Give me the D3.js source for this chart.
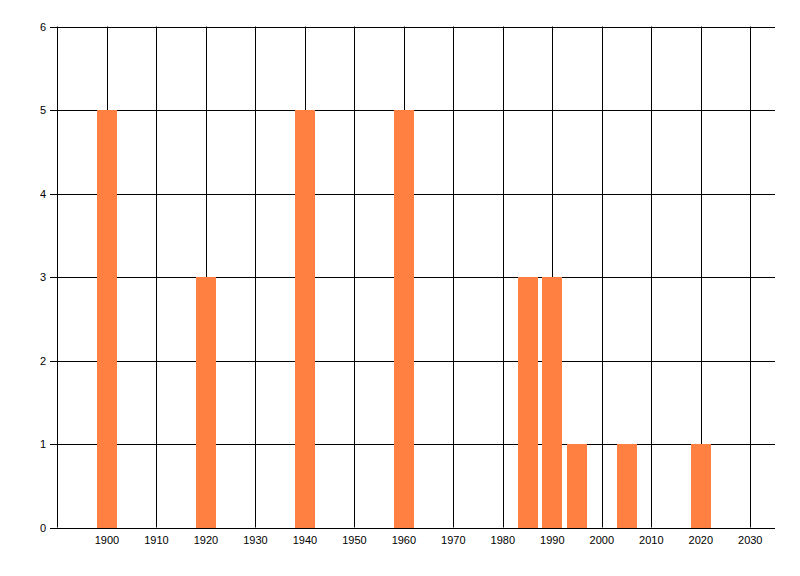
<!DOCTYPE html>
<html>
<head>
<meta charset="utf-8">
<script src="https://cdn.jsdelivr.net/npm/d3@7"></script>
<style>
  html, body { margin: 0; padding: 0; background: #fff; }
  svg text { font-family: "Liberation Sans", Arial, sans-serif; font-size: 11px; fill: #000; }
</style>
</head>
<body>
<svg id="chart" width="800" height="576"></svg>
<script>
// bar data: year and count
var years = [1900, 1920, 1940, 1960, 1985, 1990, 1995, 2005, 2020]
var counts = [5, 3, 5, 5, 3, 3, 1, 1, 1]
var xTicks = [1900, 1910, 1920, 1930, 1940, 1950, 1960, 1970, 1980, 1990, 2000, 2010, 2020, 2030]
var yTicks = [0, 1, 2, 3, 4, 5, 6]

var svg = d3.select('#chart')

var x = d3.scaleLinear()
  .domain([1890, 2035])
  .range([57.5, 775])

var y = d3.scaleLinear()
  .domain([0, 6])
  .range([527.5, 26.5])

var barWidth = x(1894) - x(1890) // bars are ~4 years wide

// vertical grid lines
svg.append('g')
  .selectAll('line')
  .data(xTicks)
  .enter().append('line')
    .attr('x1', function (d) { return Math.round(x(d)) + 0.5 })
    .attr('x2', function (d) { return Math.round(x(d)) + 0.5 })
    .attr('y1', y(6))
    .attr('y2', y(0))
    .attr('stroke', '#000')

// horizontal grid lines (with tick stubs to the left)
svg.append('g')
  .selectAll('line')
  .data(yTicks)
  .enter().append('line')
    .attr('x1', 50)
    .attr('x2', x(2035))
    .attr('y1', function (d) { return Math.round(y(d)) + 0.5 })
    .attr('y2', function (d) { return Math.round(y(d)) + 0.5 })
    .attr('stroke', '#000')

// bars
svg.append('g')
  .selectAll('rect')
  .data(years)
  .enter().append('rect')
    .attr('x', function (d) { return Math.round(x(d) - barWidth / 2) })
    .attr('width', Math.round(barWidth))
    .attr('y', function (d, i) { return Math.round(y(counts[i])) })
    .attr('height', function (d, i) { return Math.round(y(0)) - Math.round(y(counts[i])) })
    .attr('fill', '#ff8041')

// left axis line
svg.append('line')
  .attr('x1', 57.5).attr('x2', 57.5)
  .attr('y1', y(6)).attr('y2', y(0))
  .attr('stroke', '#000')

// y labels
svg.append('g')
  .selectAll('text')
  .data(yTicks)
  .enter().append('text')
    .attr('x', 46)
    .attr('y', function (d) { return y(d) + 4 })
    .attr('text-anchor', 'end')
    .text(function (d) { return d })

// x labels
svg.append('g')
  .selectAll('text')
  .data(xTicks)
  .enter().append('text')
    .attr('x', function (d) { return x(d) })
    .attr('y', 544)
    .attr('text-anchor', 'middle')
    .text(function (d) { return d })
</script>
</body>
</html>
